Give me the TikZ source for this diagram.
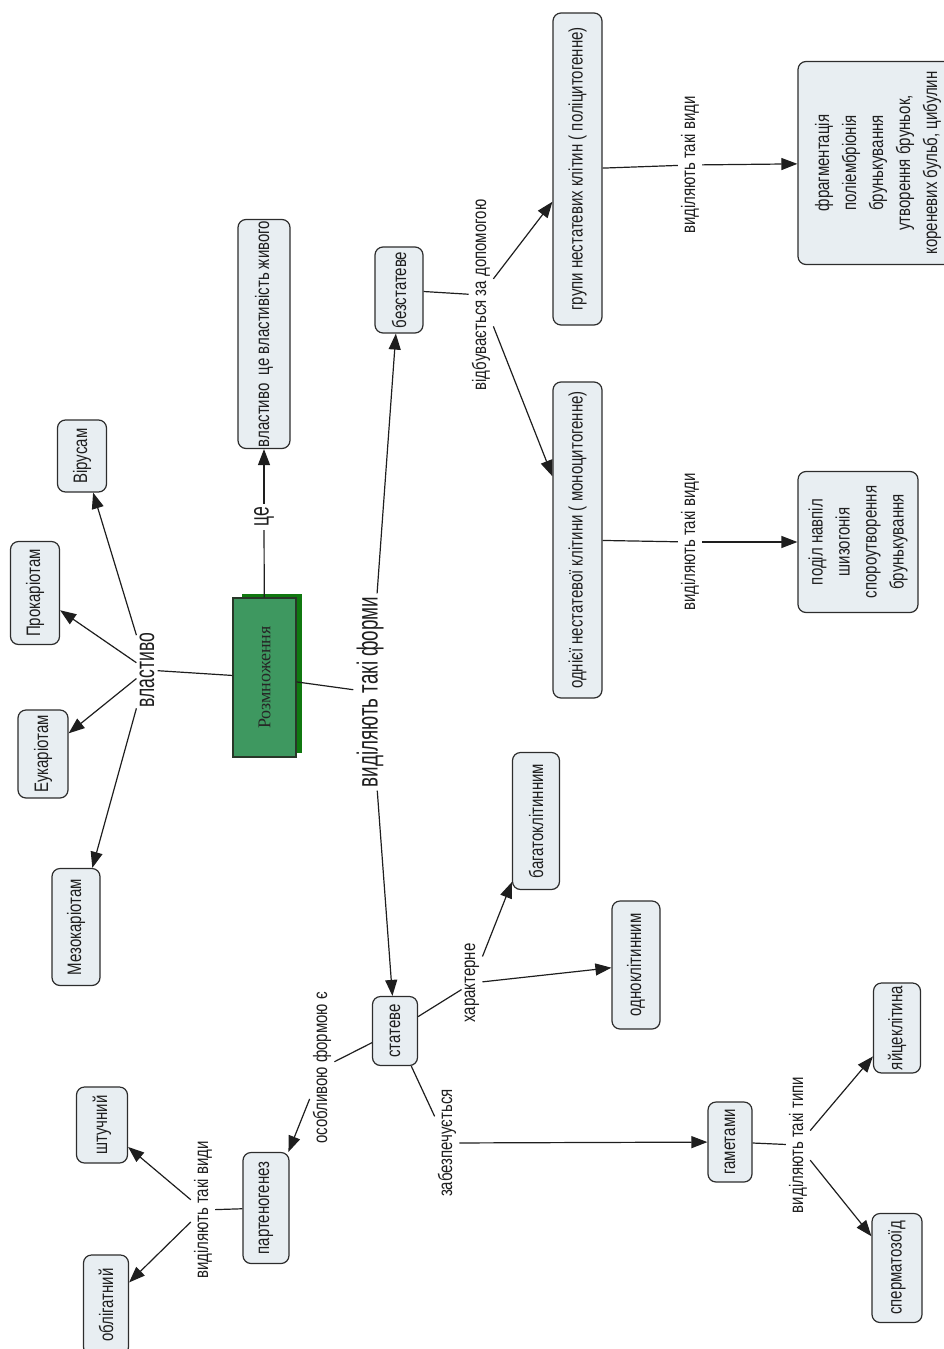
\documentclass[tikz,border=0pt]{standalone}
\usepackage{fontspec}
\setmainfont{Liberation Sans}[FakeStretch=0.77]
\newfontfamily\titleserif{Liberation Serif}
\newfontfamily\tallface{Liberation Sans}[FakeStretch=0.65]
\usetikzlibrary{arrows.meta}

\definecolor{boxfill}{RGB}{232,238,242}
\definecolor{boxline}{RGB}{45,45,45}
\definecolor{inkc}{RGB}{30,30,30}
\definecolor{mapgreen}{RGB}{62,152,96}
\definecolor{shadegreen}{RGB}{16,120,16}
\definecolor{greenline}{RGB}{40,55,40}

\begin{document}
\begin{tikzpicture}[x=1pt,y=-1pt,
  concept/.style={draw=boxline, fill=boxfill, line width=1.2pt, rounded corners=8pt,
    rotate=90, inner sep=0pt, align=center, text=inkc,
    font=\fontsize{19.5}{27}\selectfont},
  dims/.style 2 args={minimum height=#1pt, minimum width=#2pt},
  linkph/.style={rotate=90, inner sep=3pt, text=inkc, font=\fontsize{19.5}{22}\selectfont},
  bigph/.style={linkph, font=\tallface\fontsize{27}{29}\selectfont},
  conn/.style={draw=inkc, line width=1.2pt},
  arr/.style={conn, -{Triangle[length=16pt,width=12pt]}},
]
\useasboundingbox (0,0) rectangle (944,1349);

% central concept with its green drop box
\fill[shadegreen] (242,594) rectangle (302,753);
\node[concept, fill=mapgreen, draw=greenline, rounded corners=0pt, dims={63}{159},
  text=black!85, font=\titleserif\fontsize{18}{20}\selectfont] (rozm) at (264.5,677.5) {Розмноження};

% concepts
\node[concept, dims={52}{229}] (vl) at (264,334) {властиво~ це властивість живого};
\node[concept, dims={48}{86}] (bez) at (399,290) {безстатеве};
\node[concept, dims={49}{312}] (grp) at (577.5,169) {групи нестатевих клітин ( поліцитогенне)};
\node[concept, dims={49}{316}] (odn) at (577.5,540) {однієї нестатевої клітини ( моноцитогенне)};
\node[concept, dims={160}{203}] (frag) at (878,163)
  {фрагментація\\поліембріонія\\брунькування\\утворення бруньок,\\кореневих бульб, цибулин};
\node[concept, dims={120}{141}] (pod) at (858,542)
  {поділ навпіл\\шизогонія\\спороутворення\\брунькування};
\node[concept, dims={49}{72}] (vir) at (82,456) {Вірусам};
\node[concept, dims={49}{103}] (pro) at (35,593) {Прокаріотам};
\node[concept, dims={50}{88}] (euk) at (43,754) {Еукаріотам};
\node[concept, dims={48}{117}] (mez) at (76,927) {Мезокаріотам};
\node[concept, dims={45}{69}] (stat) at (395,1031) {статеве};
\node[concept, dims={47}{137}] (bag) at (536,821) {багатоклітинним};
\node[concept, dims={48}{128}] (odk) at (636,965) {одноклітинним};
\node[concept, dims={44}{80}] (gam) at (730,1142) {гаметами};
\node[concept, dims={47}{90}] (yaj) at (897,1028) {яйцеклітина};
\node[concept, dims={50}{109}] (sperm) at (897,1268) {сперматозоїд};
\node[concept, dims={46}{111}] (part) at (266,1208) {партеногенез};
\node[concept, dims={51}{76}] (sht) at (102,1125) {штучний};
\node[concept, dims={45}{100}] (obl) at (106,1305) {облігатний};

% linking phrases
\node[bigph] (ce) at (264,517) {це};
\node[bigph] (vlp) at (147,670) {властиво};
\node[bigph, font=\tallface\fontsize{29}{31}\selectfont] (form) at (370,692) {виділяють такі форми};
\node[linkph] (dop) at (481,295) {відбувається за допомогою};
\node[linkph] (vid1) at (690,165) {виділяють такі види};
\node[linkph] (vid2) at (690,542) {виділяють такі види};
\node[linkph] (har) at (472,983) {характерне};
\node[linkph] (zab) at (447,1143) {забезпечується};
\node[linkph] (typ) at (798,1145) {виділяють такі типи};
\node[linkph] (osob) at (322,1068) {особливою формою є};
\node[linkph] (vid3) at (203,1210) {виділяють такі види};

% connectors
\draw[conn] (rozm) -- (ce);   \draw[arr] (ce) -- (vl);
\draw[conn] (rozm) -- (vlp);
\draw[arr] (vlp) -- (vir);  \draw[arr] (vlp) -- (pro);
\draw[arr] (vlp) -- (euk);  \draw[arr] (vlp) -- (mez);
\draw[conn] (rozm) -- (form);
\draw[arr] (form) -- (bez); \draw[arr] (form) -- (stat);
\draw[conn] (bez) -- (dop);
\draw[arr] (dop) -- (grp);  \draw[arr] (dop) -- (odn);
\draw[conn] (grp) -- (vid1); \draw[arr] (vid1) -- (frag);
\draw[conn] (odn) -- (vid2); \draw[arr] (vid2) -- (pod);
\draw[conn] (stat) -- (har);
\draw[arr] (har) -- (bag);  \draw[arr] (har) -- (odk);
\draw[conn] (stat) -- (zab); \draw[arr] (zab) -- (gam);
\draw[conn] (gam) -- (typ);
\draw[arr] (typ) -- (yaj);  \draw[arr] (typ) -- (sperm);
\draw[conn] (stat) -- (osob); \draw[arr] (osob) -- (part);
\draw[conn] (part) -- (vid3);
\draw[arr] (vid3) -- (sht); \draw[arr] (vid3) -- (obl);
\end{tikzpicture}
\end{document}
